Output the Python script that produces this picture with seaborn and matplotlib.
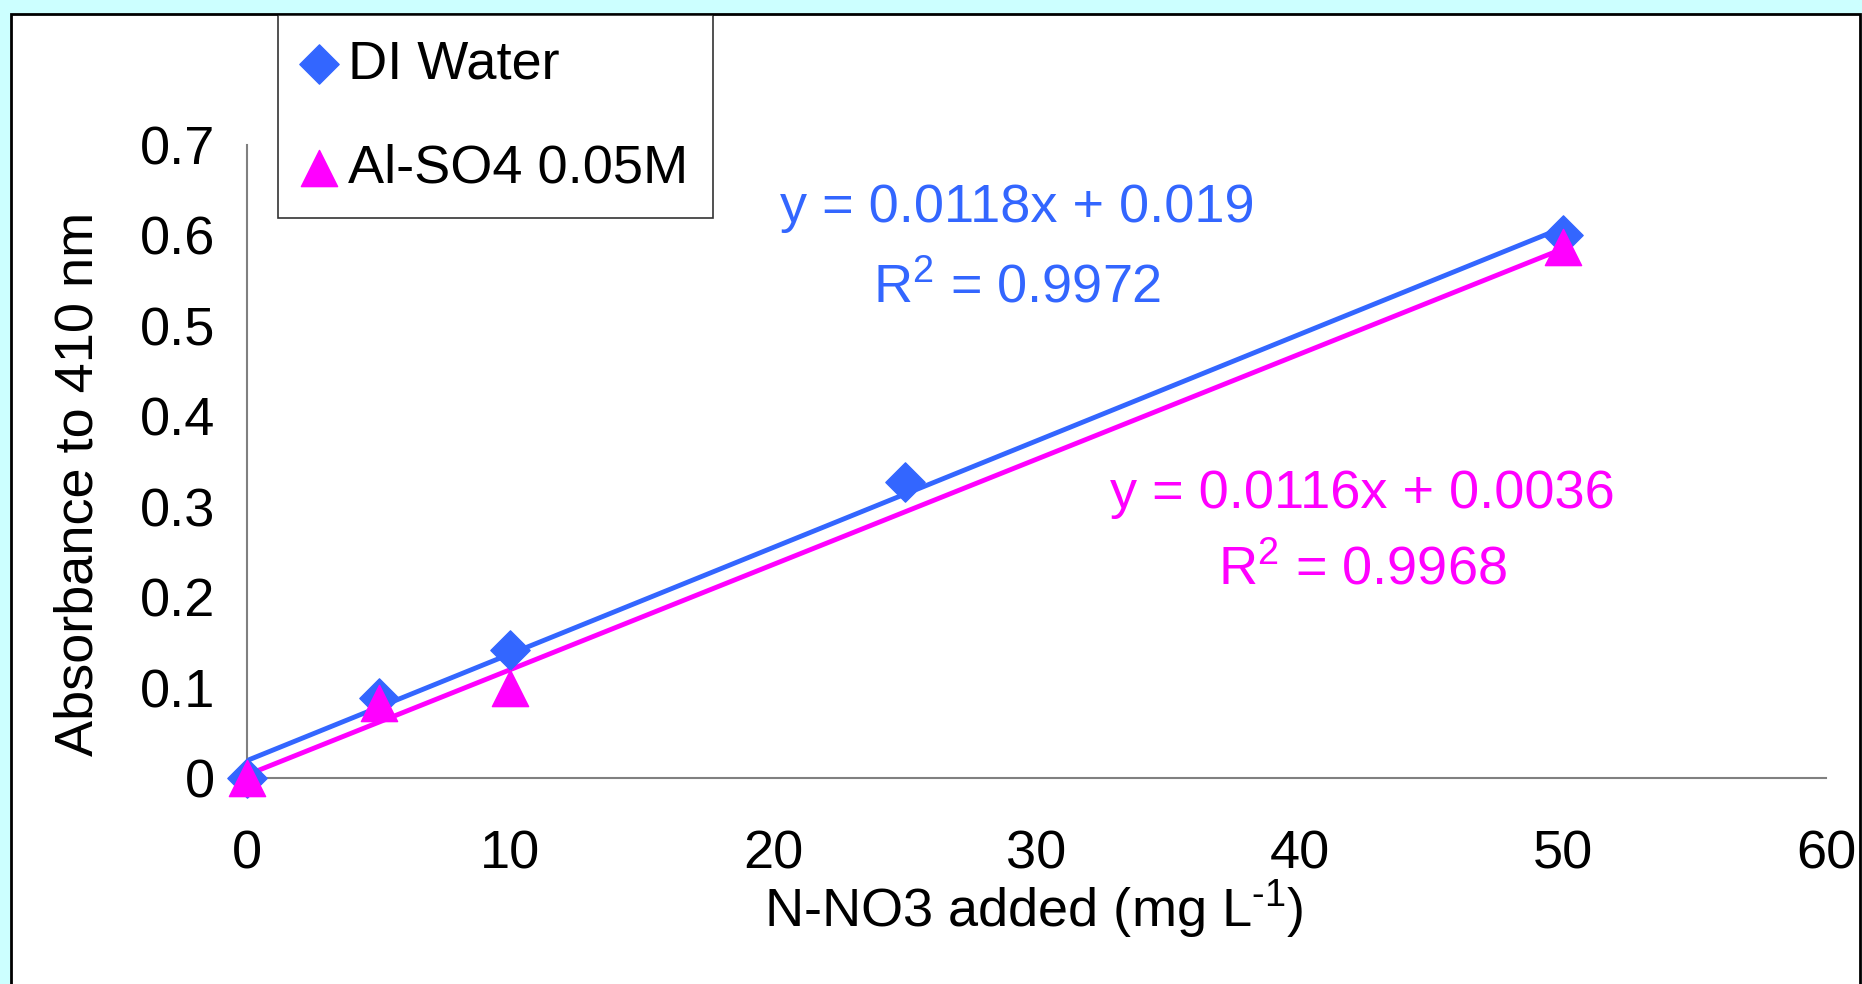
import matplotlib
matplotlib.use('Agg')
import matplotlib.pyplot as plt
from matplotlib.patches import Rectangle
import seaborn as sns
import pandas as pd

# datos
n_added = [0, 5, 10, 25, 50]
abs_di_water = [0.0, 0.088, 0.142, 0.327, 0.600]
n_added_al = [0, 5, 10, 50]
abs_al_so4 = [0.0, 0.083, 0.100, 0.587]

x_ticks = [0, 10, 20, 30, 40, 50, 60]
y_ticks = [0, 0.1, 0.2, 0.3, 0.4, 0.5, 0.6, 0.7]

eq_di = ['y = 0.0118x + 0.019', 'R$^2$ = 0.9972']
eq_al = ['y = 0.0116x + 0.0036', 'R$^2$ = 0.9968']

blue = '#3366FF'
magenta = '#FF00FF'

df_di = pd.DataFrame({'x': n_added, 'y': abs_di_water})
df_al = pd.DataFrame({'x': n_added_al, 'y': abs_al_so4})

sns.set_style('white')
plt.rcParams['font.family'] = ['Liberation Sans', 'DejaVu Sans']
plt.rcParams['mathtext.fontset'] = 'custom'
plt.rcParams['mathtext.rm'] = 'Liberation Sans'
plt.rcParams['mathtext.it'] = 'Liberation Sans:italic'
plt.rcParams['mathtext.default'] = 'regular'
plt.rcParams['text.color'] = 'black'
plt.rcParams['axes.labelcolor'] = 'black'

fig = plt.figure(figsize=(18.62, 9.84), dpi=100, facecolor='#CCFFFF')
# panel blanco con borde negro
fig.patches.append(Rectangle((11 / 1862, -0.05), 1849 / 1862, 1.05 - 14 / 984,
                             transform=fig.transFigure, facecolor='white',
                             edgecolor='black', lw=2, zorder=-5))
ax = fig.add_axes([247 / 1862, 1 - 778 / 984, 1579 / 1862, 633 / 984])
ax.set_zorder(2)
ax.set_facecolor('none')

# lineas de regresion
sns.regplot(x='x', y='y', data=df_di, scatter=False, ci=None, ax=ax,
            line_kws={'color': blue, 'lw': 3.5, 'zorder': 2})
sns.regplot(x='x', y='y', data=df_al, scatter=False, ci=None, ax=ax,
            line_kws={'color': magenta, 'lw': 3.5, 'zorder': 2})

# puntos
sns.scatterplot(x='x', y='y', data=df_di, marker='D', s=400, color=blue,
                edgecolor=blue, linewidth=1, ax=ax, zorder=3, label='DI Water',
                clip_on=False)
sns.scatterplot(x='x', y='y', data=df_al, marker='^', s=680, color=magenta,
                edgecolor=magenta, linewidth=1, ax=ax, zorder=4, label='Al-SO4 0.05M',
                clip_on=False)

ax.set_xlim(0, 60)
ax.set_ylim(0, 0.7)
ax.set_xticks(x_ticks)
ax.set_xticklabels([f'{v:g}' for v in x_ticks])
ax.set_yticks(y_ticks)
ax.set_yticklabels([f'{v:g}' for v in y_ticks])

for side in ['top', 'right']:
    ax.spines[side].set_visible(False)
for side in ['left', 'bottom']:
    ax.spines[side].set_color('#808080')
    ax.spines[side].set_linewidth(1.5)

ax.tick_params(axis='both', direction='out', length=11, width=1.5,
               color='#808080', labelsize=39, labelcolor='black')
ax.tick_params(axis='x', pad=26)
ax.tick_params(axis='y', pad=12)

ax.set_xlabel('N-NO3 added (mg L$^{\\text{-1}}$)', fontsize=39)
ax.set_ylabel('Absorbance to 410 nm', fontsize=39)
ax.xaxis.set_label_coords(0.498, -0.158)
ax.yaxis.set_label_coords(-0.091, 0.464)

# ecuaciones
ax.text(29.26, 0.615, eq_di[0], color=blue, fontsize=39, ha='center', va='baseline')
ax.text(29.26, 0.526, eq_di[1], color=blue, fontsize=39, ha='center', va='baseline')
ax.text(42.37, 0.2986, eq_al[0], color=magenta, fontsize=39, ha='center', va='baseline')
ax.text(42.37, 0.2145, eq_al[1], color=magenta, fontsize=39, ha='center', va='baseline')

leg = ax.legend(loc='upper left', bbox_to_anchor=(278 / 1862, 1 - 15 / 984),
                bbox_transform=fig.transFigure, borderaxespad=0, fontsize=39,
                frameon=True, fancybox=False, edgecolor='black', facecolor='white',
                labelspacing=1.0, handletextpad=0.25, handlelength=0.6,
                borderpad=0.45)
leg.get_frame().set_linewidth(1.2)
leg.set_zorder(10)
for t in leg.get_texts():
    t.set_color('black')

fig.savefig('out.png', dpi=100, facecolor=fig.get_facecolor())
